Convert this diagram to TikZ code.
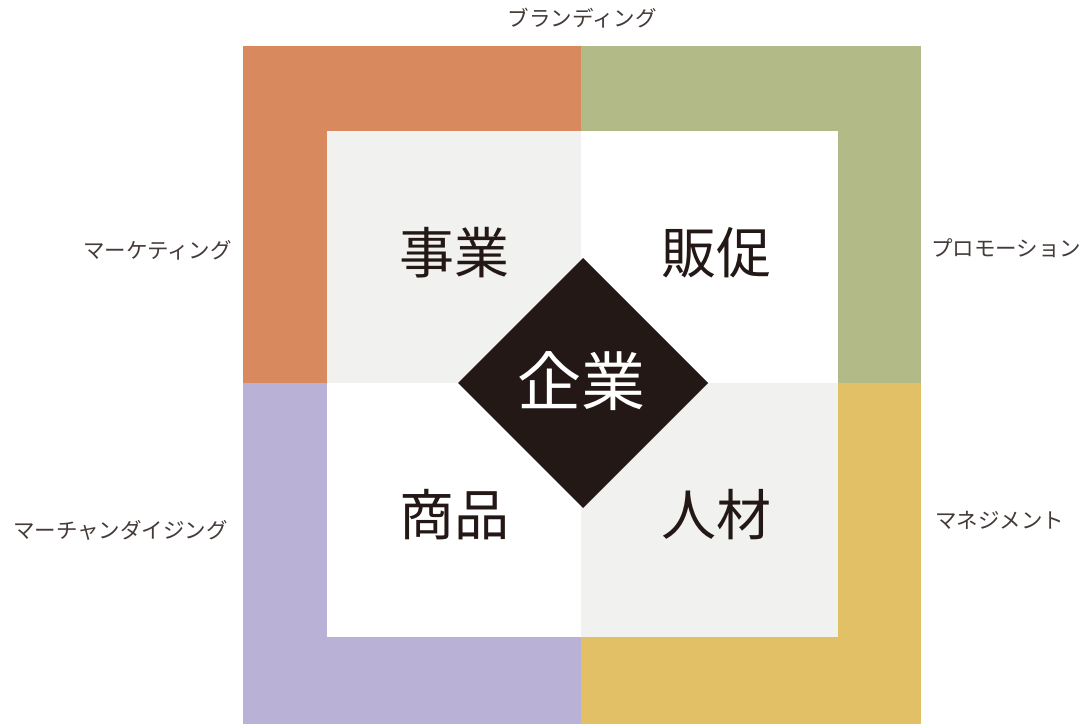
\documentclass[tikz,border=0pt]{standalone}
\usepackage{fontspec}
\newfontfamily\jp{Noto Sans CJK JP}
\definecolor{cOrange}{HTML}{D9895E}
\definecolor{cGreen}{HTML}{B2BA87}
\definecolor{cPurple}{HTML}{BAB2D6}
\definecolor{cYellow}{HTML}{E2C166}
\definecolor{cGray}{HTML}{F1F2F0}
\definecolor{cDark}{HTML}{231815}
\begin{document}
\begin{tikzpicture}[x=1pt,y=-1pt,
  big/.style={font=\jp\fontsize{55}{55}\selectfont, text=cDark, inner sep=0pt},
  lab/.style={font=\jp\fontsize{21.5}{21.5}\selectfont, text=cDark!85, inner sep=0pt}]
\useasboundingbox (0,0) rectangle (1082,725);
% outer quadrants
\fill[cOrange] (243,46) rectangle (581,383);
\fill[cGreen] (581,46) rectangle (921,383);
\fill[cPurple] (243,383) rectangle (581,724);
\fill[cYellow] (581,383) rectangle (921,724);
% inner quadrants
\fill[cGray] (327,131) rectangle (581,383);
\fill[white] (581,131) rectangle (838,383);
\fill[white] (327,383) rectangle (581,637);
\fill[cGray] (581,383) rectangle (838,637);
% diamond
\fill[cDark] (583,258) -- (708,383) -- (583,508) -- (458,383) -- cycle;
\node[font=\jp\fontsize{64}{64}\selectfont, text=white, inner sep=0pt] (kigyo) at (581,381) {企業};
\node[big] (jigyo) at (454,253) {事業};
\node[big] (hansoku) at (716,253) {販促};
\node[big] (shohin) at (454,515) {商品};
\node[big] (jinzai) at (716,515) {人材};
% labels
\node[lab] (brand) at (582,18) {ブランディング};
\node[lab, anchor=east] (mkt) at (232,250) {マーケティング};
\node[lab, anchor=west] (promo) at (931,248) {プロモーション};
\node[lab, anchor=east] (mch) at (228,530) {マーチャンダイジング};
\node[lab, anchor=west] (mgmt) at (935,520) {マネジメント};
\end{tikzpicture}
\end{document}
